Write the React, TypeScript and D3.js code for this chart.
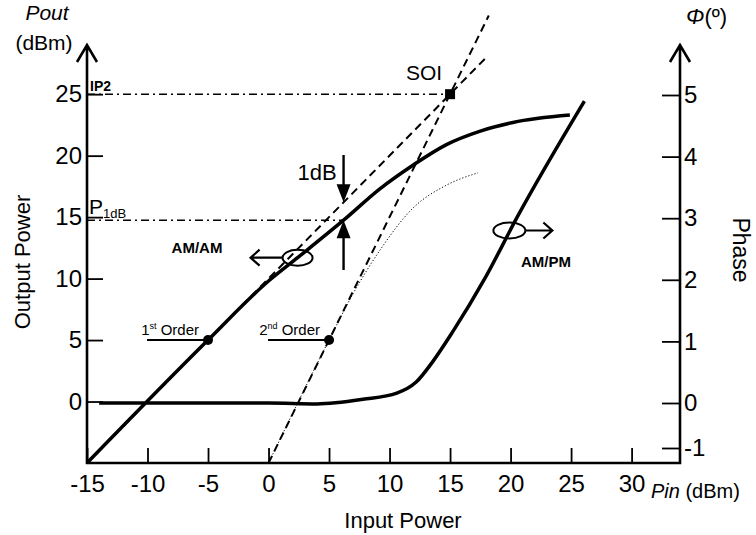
import React, { useEffect, useRef } from "react";
import * as d3 from "d3";

// axis ticks
const pinTicks = [-15, -10, -5, 0, 5, 10, 15, 20, 25, 30];
const poutTicks = [0, 5, 10, 15, 20, 25];
const phaseTicks = [-1, 0, 1, 2, 3, 4, 5];

// fundamental output power (Pin dBm, Pout dBm)
const fundamental: [number, number][] = [
  [-15, -5], [-5, 5], [0, 9.8], [2.4, 11.7], [6.2, 14.75], [9.2, 17.3],
  [11.9, 19.2], [14.7, 20.9], [17.5, 22.0], [20.2, 22.7], [24.9, 23.3],
];

// 2nd order response (dotted)
const secondOrder: [number, number][] = [
  [0, -5], [5, 5], [7, 8.8], [9.2, 12.3], [11.9, 15.7], [14.7, 17.6], [17.3, 18.6],
];

// asymptotes
const firstAsym: [number, number][] = [[-15, -5], [18, 28]];
const secondAsym: [number, number][] = [[0, -5], [18.2, 31.4]];

// AM/PM (Pin dBm, phase deg)
const amPm: [number, number][] = [
  [-14, 0], [0, 0], [4, -0.02], [7.8, 0.06], [10.6, 0.16], [12.2, 0.34],
  [13.6, 0.68], [15.2, 1.15], [17.9, 2.03], [20.5, 3.0], [26.1, 4.9],
];

const soi = { pin: 15, pout: 25 };
const p1dB = { pin: 6.2, pout: 14.75, asym: 16.2 };
const orderDots = [
  { pin: -5, pout: 5, label: "1", sup: "st" },
  { pin: 5, pout: 5, label: "2", sup: "nd" },
];

const FONT = "'Liberation Sans', Arial, sans-serif";

export default function App() {
  const svgRef = useRef<SVGSVGElement>(null);
  const width = 756;
  const height = 535;

  useEffect(() => {
    const svg = d3.select(svgRef.current);
    svg.selectAll("*").remove();

    const x = d3.scaleLinear().domain([-15, 34]).range([87, 680]);
    const y = d3.scaleLinear().domain([-5, 29]).range([463, 45]);
    const ph = d3.scaleLinear().domain([-1, 0, 5]).range([448, 403, 95]);

    const smooth = d3
      .line<[number, number]>()
      .x((d) => x(d[0]))
      .y((d) => y(d[1]))
      .curve(d3.curveMonotoneX);
    const straight = d3
      .line<[number, number]>()
      .x((d) => x(d[0]))
      .y((d) => y(d[1]));

    // dash-dot guides to IP2 and P1dB
    [
      [soi.pin, soi.pout],
      [p1dB.pin, p1dB.pout],
    ].forEach(([px, py]) => {
      svg
        .append("path")
        .attr("d", `M${x(-15)},${y(py)}H${x(px)}`)
        .attr("stroke", "#000")
        .attr("stroke-width", 1.4)
        .attr("stroke-dasharray", "8,4,2,4");
    });

    // asymptotes
    [firstAsym, secondAsym].forEach((d) => {
      svg
        .append("path")
        .attr("d", straight(d))
        .attr("fill", "none")
        .attr("stroke", "#000")
        .attr("stroke-width", 2)
        .attr("stroke-dasharray", "8,5");
    });

    // 2nd order dotted curve
    svg
      .append("path")
      .attr("d", smooth(secondOrder))
      .attr("fill", "none")
      .attr("stroke", "#000")
      .attr("stroke-width", 1)
      .attr("stroke-dasharray", "1.2,2");

    // fundamental
    svg
      .append("path")
      .attr("d", smooth(fundamental))
      .attr("fill", "none")
      .attr("stroke", "#000")
      .attr("stroke-width", 3.5);

    // AM/PM
    const phLine = d3
      .line<[number, number]>()
      .x((d) => x(d[0]))
      .y((d) => ph(d[1]))
      .curve(d3.curveMonotoneX);
    svg
      .append("path")
      .attr("d", phLine(amPm))
      .attr("fill", "none")
      .attr("stroke", "#000")
      .attr("stroke-width", 3.5);

    // axes
    const styleAxis = (g: any, size: number) => {
      g.select(".domain").remove();
      g.attr("font-family", FONT).attr("font-size", size);
      g.selectAll("line").attr("stroke", "#000").attr("stroke-width", 1.8);
      g.selectAll("text").attr("fill", "#000");
    };

    svg
      .append("g")
      .attr("transform", `translate(0,${y(-5)})`)
      .call(
        d3
          .axisBottom(x)
          .tickValues(pinTicks)
          .tickSize(-15)
          .tickPadding(12)
          .tickFormat((d) => String(d))
      )
      .call((g) => styleAxis(g, 24));

    svg
      .append("g")
      .attr("transform", `translate(${x(-15)},0)`)
      .call(
        d3
          .axisLeft(y)
          .tickValues(poutTicks)
          .tickSize(-16)
          .tickPadding(5)
          .tickFormat((d) => String(d))
      )
      .call((g) => styleAxis(g, 24));

    svg
      .append("g")
      .attr("transform", `translate(${x(34)},0)`)
      .call(
        d3
          .axisRight(ph)
          .tickValues(phaseTicks)
          .tickSize(-18)
          .tickPadding(4)
          .tickFormat((d) => String(d))
      )
      .call((g) => styleAxis(g, 24));

    // axis lines + open arrowheads
    const axisPath = [
      `M${x(-15)},${y(29)}V${y(-5)}H${x(34)}V${y(29)}`,
      `M${x(-15) - 10},${y(29) + 17}L${x(-15)},${y(29)}L${x(-15) + 10},${y(29) + 17}`,
      `M${x(34) - 10},${y(29) + 17}L${x(34)},${y(29)}L${x(34) + 10},${y(29) + 17}`,
    ];
    svg
      .append("path")
      .attr("d", axisPath.join(""))
      .attr("fill", "none")
      .attr("stroke", "#000")
      .attr("stroke-width", 2.6);

    // SOI marker
    svg
      .append("rect")
      .attr("x", x(soi.pin) - 5)
      .attr("y", y(soi.pout) - 5)
      .attr("width", 10)
      .attr("height", 10)
      .attr("fill", "#000");

    // 1st / 2nd order markers
    orderDots.forEach((d) => {
      const cx = x(d.pin);
      const cy = y(d.pout);
      svg
        .append("path")
        .attr("d", `M${cx - 61},${cy}H${cx}`)
        .attr("stroke", "#000")
        .attr("stroke-width", 2);
      svg
        .append("circle")
        .attr("cx", cx)
        .attr("cy", cy)
        .attr("r", 5)
        .attr("fill", "#000");
      const t = svg
        .append("text")
        .attr("x", cx - 9)
        .attr("y", cy - 5)
        .attr("text-anchor", "end")
        .attr("font-family", FONT)
        .attr("font-size", 15);
      t.append("tspan").text(d.label);
      t.append("tspan").attr("font-size", 9).attr("dy", -6).text(d.sup);
      t.append("tspan").attr("dy", 6).text(" Order");
    });

    // 1dB arrows
    const ax = x(p1dB.pin);
    const arrow = (tipY: number, tailY: number) => {
      const dir = tipY > tailY ? 1 : -1;
      svg
        .append("path")
        .attr("d", `M${ax},${tailY}V${tipY - dir * 14}`)
        .attr("stroke", "#000")
        .attr("stroke-width", 2.4);
      svg
        .append("path")
        .attr("d", `M${ax},${tipY}L${ax - 7},${tipY - dir * 18}L${ax + 7},${tipY - dir * 18}Z`)
        .attr("fill", "#000");
    };
    arrow(y(p1dB.asym), 155);
    arrow(y(p1dB.pout), 270);

    // AM/AM and AM/PM ellipses + arrows
    const openArrow = (x0: number, x1: number, yy: number) => {
      const d = x1 > x0 ? -1 : 1;
      svg
        .append("path")
        .attr("d", `M${x0},${yy}H${x1}M${x1 + d * 9},${yy - 8}L${x1},${yy}L${x1 + d * 9},${yy + 8}`)
        .attr("fill", "none")
        .attr("stroke", "#000")
        .attr("stroke-width", 2.2);
    };
    const ellipse = (cx: number, cy: number, rx: number) =>
      svg
        .append("ellipse")
        .attr("cx", cx)
        .attr("cy", cy)
        .attr("rx", rx)
        .attr("ry", 8)
        .attr("fill", "none")
        .attr("stroke", "#000")
        .attr("stroke-width", 2);

    const amX = x(2.4);
    const amY = y(11.7);
    ellipse(amX, amY, 15);
    openArrow(amX - 15, amX - 47, amY);

    const pmX = x(19.9);
    const pmY = ph(2.8);
    ellipse(pmX, pmY, 16);
    openArrow(pmX + 16, pmX + 43, pmY);

    const text = (
      s: string,
      tx: number,
      ty: number,
      size: number,
      opts: { anchor?: string; weight?: string; style?: string; rotate?: number } = {}
    ) => {
      const t = svg
        .append("text")
        .attr("x", tx)
        .attr("y", ty)
        .attr("font-family", FONT)
        .attr("font-size", size)
        .attr("text-anchor", opts.anchor || "start")
        .attr("font-weight", opts.weight || "normal")
        .attr("font-style", opts.style || "normal")
        .text(s);
      if (opts.rotate) t.attr("transform", `rotate(${opts.rotate},${tx},${ty})`);
      return t;
    };

    text("AM/AM", 197, 253, 15, { anchor: "middle", weight: "bold" });
    text("AM/PM", 546, 267, 15, { anchor: "middle", weight: "bold" });
    text("SOI", 424, 80, 21, { anchor: "middle" });
    text("1dB", 317, 180, 22, { anchor: "middle" });
    text("IP2", 90, 91, 14, { weight: "bold" });
    const p = text("P", 89, 214, 21);
    p.append("tspan").attr("font-size", 13).attr("dy", 4).text("1dB");

    text("Pout", 47, 20, 21, { anchor: "middle", style: "italic" });
    text("(dBm)", 44, 50, 21, { anchor: "middle" });
    const phi = text("Φ", 686, 24, 22, { style: "italic" });
    phi.append("tspan").attr("font-style", "normal").text("(º)");
    const pin = text("Pin", 651, 498, 20, { style: "italic" });
    pin.append("tspan").attr("font-style", "normal").text(" (dBm)");

    text("Input Power", 403, 528, 22, { anchor: "middle" });
    text("Output Power", 30, 262, 22, { anchor: "middle", rotate: -90 });
    text("Phase", 733, 250, 23, { anchor: "middle", rotate: 90 });
  }, []);

  return (
    <svg
      ref={svgRef}
      width={width}
      height={height}
      style={{ position: "absolute", left: 0, top: 0, background: "#fff" }}
    ></svg>
  );
}
